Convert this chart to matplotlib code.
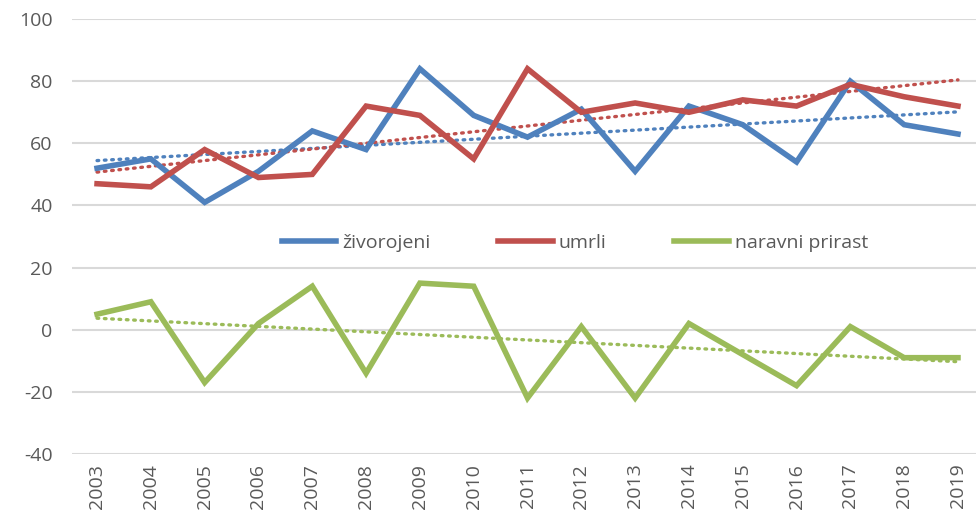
import numpy as np
import matplotlib.pyplot as plt

# podatki
godine = [2003, 2004, 2005, 2006, 2007, 2008, 2009, 2010, 2011,
          2012, 2013, 2014, 2015, 2016, 2017, 2018, 2019]
zivorojeni = [52, 55, 41, 51, 64, 58, 84, 69, 62, 71, 51, 72, 66, 54, 80, 66, 63]
umrli = [47, 46, 58, 49, 50, 72, 69, 55, 84, 70, 73, 70, 74, 72, 79, 75, 72]
prirast = [5, 9, -17, 2, 14, -14, 15, 14, -22, 1, -22, 2, -8, -18, 1, -9, -9]

serije = [
    ("živorojeni", zivorojeni, "#4F81BD"),
    ("umrli", umrli, "#C0504D"),
    ("naravni prirast", prirast, "#9BBB59"),
]

plt.rcParams['font.family'] = ['Open Sans', 'DejaVu Sans']
plt.rcParams['axes.unicode_minus'] = False

fig = plt.figure(figsize=(9.76, 5.16), dpi=100)
ax = fig.add_axes([0.0738, 0.1202, 0.9262, 0.8428])

x = np.arange(len(godine))
for naziv, vrijednosti, boja in serije:
    ax.plot(x, vrijednosti, color=boja, lw=4.0, label=naziv,
            solid_joinstyle='miter', zorder=3)
    # linearni trend
    k, b = np.polyfit(x, vrijednosti, 1)
    ax.plot(x, k * x + b, color=boja, lw=2.4, ls=(0, (0.5, 1.7)),
            dash_capstyle='round', zorder=2)

ax.set_ylim(-40, 100)
ax.set_yticks(range(-40, 101, 20))
ax.set_xlim(-0.465, 16.335)
ax.set_xticks(x)
ax.set_xticklabels([str(g) for g in godine], rotation=90)
ax.tick_params(axis='y', length=0, labelsize=14, colors='#595959', pad=14)
ax.tick_params(axis='x', length=0, labelsize=14, colors='#595959', pad=7)
ax.grid(axis='y', color='#D9D9D9', lw=1.5)
ax.set_axisbelow(True)
for s in ax.spines.values():
    s.set_visible(False)

fig.legend(loc='center', bbox_to_anchor=(0.589, 0.529), ncol=3, frameon=False,
           fontsize=14, handlelength=2.8, columnspacing=3.5, handletextpad=0.3,
           labelcolor='#595959')

fig.savefig("out.png", dpi=100)
